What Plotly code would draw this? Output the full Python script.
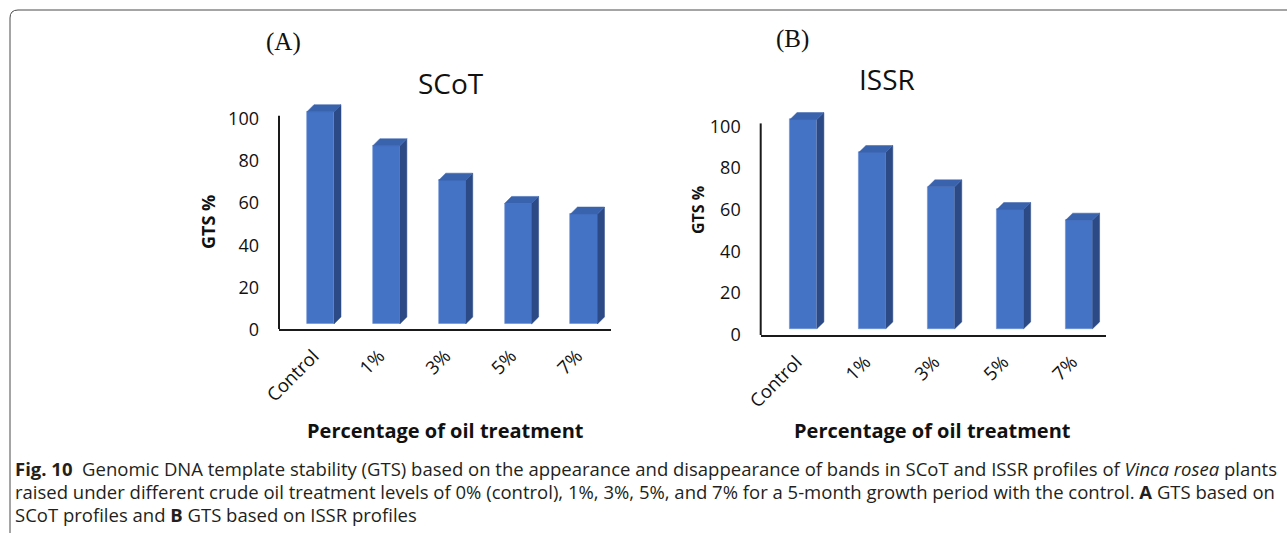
import plotly.graph_objects as go

# ---------------- data ----------------
categories = ["Control", "1%", "3%", "5%", "7%"]
scot_gts = [100.4, 84.3, 68.0, 57.0, 52.0]
issr_gts = [100.5, 84.7, 68.2, 57.3, 52.2]
y_ticks = [0, 20, 40, 60, 80, 100]

W, H = 1287, 533

FRONT = "#4472C4"
TOP = "#3A63AE"
SIDE = "#2C4B86"
AXIS = "#1a1a1a"
TICKFONT = dict(family="Open Sans", size=18, color="#111111")


def px_x(p):
    return p / W


def px_y(p):
    return 1 - p / H


fig = go.Figure()

panels = [
    dict(vals=scot_gts, xa="x", ya="y", xd=(279, 611), yd=(329, 99.8),
         xr=(-0.63, 4.41), yr=(-2.4, 106), bw=0.41, dx=0.106, dy=3.3, ytop=98.4),
    dict(vals=issr_gts, xa="x2", ya="y2", xd=(760.7, 1106), yd=(335, 108),
         xr=(-0.62, 4.39), yr=(-3.0, 106), bw=0.39, dx=0.102, dy=3.3, ytop=98.6),
]

for k, p in enumerate(panels):
    xs = list(range(len(categories)))
    fig.add_trace(go.Bar(x=xs, y=p["vals"], width=p["bw"], xaxis=p["xa"], yaxis=p["ya"],
                         marker=dict(color=FRONT, line=dict(width=0.6, color="#6b8fd3")),
                         showlegend=False, hoverinfo="skip"))
    # side faces and top faces of the 3D columns (derived from the data)
    sx, sy, tx, ty = [], [], [], []
    for i, v in zip(xs, p["vals"]):
        l, r = i - p["bw"] / 2, i + p["bw"] / 2
        sx += [r, r + p["dx"], r + p["dx"], r, r, None]
        sy += [0, p["dy"], v + p["dy"], v, 0, None]
        tx += [l, l + p["dx"], r + p["dx"], r, l, None]
        ty += [v, v + p["dy"], v + p["dy"], v, v, None]
    fig.add_trace(go.Scatter(x=sx, y=sy, fill="toself", fillcolor=SIDE, mode="lines",
                             line=dict(width=0.5, color=SIDE), xaxis=p["xa"], yaxis=p["ya"],
                             showlegend=False, hoverinfo="skip", cliponaxis=False))
    fig.add_trace(go.Scatter(x=tx, y=ty, fill="toself", fillcolor=TOP, mode="lines",
                             line=dict(width=0.5, color=TOP), xaxis=p["xa"], yaxis=p["ya"],
                             showlegend=False, hoverinfo="skip", cliponaxis=False))
    fig.add_shape(type="line", xref=f"{p['xa']} domain", yref=p["ya"], x0=0, x1=0,
                  y0=p["yr"][0], y1=p["ytop"], line=dict(color=AXIS, width=2))

    suffix = "" if k == 0 else "2"
    fig.update_layout(**{
        f"xaxis{suffix}": dict(domain=[px_x(p["xd"][0]), px_x(p["xd"][1])], range=list(p["xr"]),
                               tickvals=xs, ticktext=categories, tickangle=-45,
                               tickfont=dict(TICKFONT, size=18.5), showgrid=False, zeroline=False,
                               showline=True, linecolor=AXIS, linewidth=2, ticks="",
                               ticklabelstandoff=7, ticklabelshift=-7, fixedrange=True,
                               automargin=False, anchor=p["ya"]),
        f"yaxis{suffix}": dict(domain=[px_y(p["yd"][0]), px_y(p["yd"][1])], range=list(p["yr"]),
                               tickvals=y_ticks, tickfont=TICKFONT, showgrid=False,
                               zeroline=False, showline=False, ticks="",
                               ticklabelstandoff=19, ticklabelshift=6, fixedrange=True,
                               automargin=False, anchor=p["xa"]),
    })

annotations = [
    dict(text="(A)", x=px_x(283), y=px_y(42), font=dict(family="Liberation Serif", size=25, color="#111")),
    dict(text="SCoT", x=px_x(451), y=px_y(83), font=dict(family="Open Sans", size=28, color="#111")),
    dict(text="(B)", x=px_x(792), y=px_y(39), font=dict(family="Liberation Serif", size=25, color="#111")),
    dict(text="ISSR", x=px_x(887), y=px_y(79), font=dict(family="Open Sans", size=28, color="#111")),
    dict(text="<b>GTS %</b>", x=px_x(208), y=px_y(222), textangle=-90,
         font=dict(family="Open Sans", size=18, color="#111")),
    dict(text="<b>GTS %</b>", x=px_x(698), y=px_y(210), textangle=-90,
         font=dict(family="Open Sans", size=16, color="#111")),
    dict(text="<b>Percentage of oil treatment</b>", x=px_x(445), y=px_y(430),
         font=dict(family="Open Sans", size=20, color="#111")),
    dict(text="<b>Percentage of oil treatment</b>", x=px_x(932), y=px_y(430),
         font=dict(family="Open Sans", size=20, color="#111")),
]
for a in annotations:
    a.update(xref="paper", yref="paper", showarrow=False, xanchor="center", yanchor="middle")

caption_lines = [
    "<b>Fig. 10</b>\u00a0 Genomic DNA template stability (GTS) based on the appearance and disappearance of bands in SCoT and ISSR profiles of <i>Vinca rosea</i> plants",
    "raised under different crude oil treatment levels of 0% (control), 1%, 3%, 5%, and 7% for a 5-month growth period with the control. <b>A</b> GTS based on",
    "SCoT profiles and <b>B</b> GTS based on ISSR profiles",
]
for j, line in enumerate(caption_lines):
    annotations.append(dict(text=line, x=px_x(13), y=px_y(468 + 23.3 * j), xref="paper", yref="paper",
                            showarrow=False, xanchor="left", yanchor="middle", align="left",
                            font=dict(family="Open Sans", size=18.5, color="#231f20")))

r = 8
frame_path = (f"M {px_x(W + 5)},{px_y(10)} L {px_x(10 + r)},{px_y(10)} "
              f"Q {px_x(10)},{px_y(10)} {px_x(10)},{px_y(10 + r)} "
              f"L {px_x(10)},{px_y(H + 5)}")
fig.add_shape(type="path", xref="paper", yref="paper", path=frame_path,
              line=dict(color="#4a4a4a", width=1))

fig.update_layout(
    width=W, height=H, margin=dict(l=0, r=0, t=0, b=0, autoexpand=False),
    paper_bgcolor="white", plot_bgcolor="white",
    annotations=annotations, bargap=0,
)

fig.write_html("out.html", config={"displayModeBar": False},
               post_script="document.body.style.margin='0';document.body.style.overflow='hidden';")
